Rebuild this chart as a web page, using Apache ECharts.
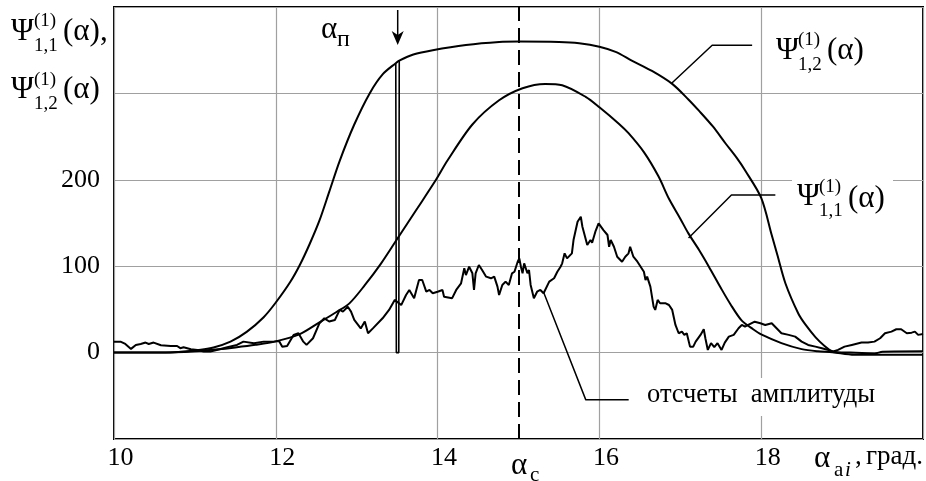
<!DOCTYPE html>
<html><head><meta charset="utf-8">
<script src="https://cdn.jsdelivr.net/npm/echarts@6/dist/echarts.min.js"></script>
<style>html,body{margin:0;padding:0;background:#fff}#c{width:926px;height:481px}</style>
</head><body><div id="c"></div>
<script>
// ---- tick labels ----
const xTickLabels = [10, 12, 14, 16, 18];
const yTickLabels = [0, 100, 200];

// ---- Psi(1)_{1,2}(alpha) ----
const psi12X = [10.0,10.5,10.75,11.0,11.23,11.44,11.64,11.85,12.0,12.18,12.3,12.42,12.54,12.66,12.79,12.97,13.16,13.32,13.483,13.526,13.7,13.94,14.35,14.76,15.0,15.5,15.75,16.0,16.2,16.4,16.65,16.9,17.1,17.23,17.4,17.56,17.7,17.8,18.0,18.13,18.2,18.3,18.46,18.55,18.67,18.78,18.89,19.1,19.4,19.5,20.0];
const psi12Y = [0,0,0.5,2.5,6,12.7,24,41,58,82,102,126,153,186,222,264,300,322,335,338,345,350,356,359.5,360,359.5,358,354,348,338,326,311,293,280,262,242,225,211,179,136,113,80,45,32,18,8,1,0,-1,1,1.5];
// narrow dip of Psi(1)_{1,2} at alpha_p
const psi12NotchX = [13.483, 13.49, 13.52, 13.526];
const psi12NotchY = [335, 0, 0, 338];

// ---- Psi(1)_{1,1}(alpha) ----
const psi11X = [10.0,10.5,10.75,11.0,11.25,11.5,11.75,12.0,12.29,12.54,12.75,12.91,13.1,13.3,13.49,13.75,13.98,14.12,14.43,14.76,15.05,15.33,15.54,15.83,16.0,16.24,16.36,16.55,16.73,16.86,17.0,17.1,17.23,17.35,17.5,17.62,17.76,17.9,18.0,18.25,18.5,18.7,18.88,19.15,20.0];
const psi11Y = [0,0,0.3,1.5,3.5,6,9,13,21,35,47,57,78,103,130,167,200,222,264,292,306,311,309.5,296,284,265,254,232,204,178,155,138,119,100,75,56,37,27,21,11,4,1.5,0.5,-2.5,-2.5];

// ---- amplitude samples ----
const ampX = [10.0,10.08,10.14,10.21,10.27,10.33,10.39,10.43,10.49,10.58,10.70,10.78,10.82,10.86,10.95,11.03,11.11,11.19,11.27,11.40,11.52,11.60,11.73,11.85,11.97,12.04,12.08,12.14,12.22,12.28,12.34,12.38,12.46,12.54,12.60,12.66,12.73,12.79,12.83,12.89,12.93,12.97,13.05,13.10,13.14,13.20,13.32,13.40,13.47,13.55,13.61,13.65,13.71,13.77,13.81,13.86,13.90,13.94,14.00,14.06,14.08,14.18,14.23,14.29,14.33,14.35,14.39,14.41,14.43,14.45,14.47,14.51,14.55,14.60,14.66,14.70,14.74,14.76,14.80,14.84,14.88,14.92,14.95,14.97,14.99,15.01,15.03,15.05,15.07,15.11,15.13,15.15,15.19,15.23,15.27,15.31,15.38,15.44,15.48,15.52,15.54,15.57,15.60,15.62,15.66,15.68,15.73,15.77,15.79,15.85,15.89,15.91,15.95,15.99,16.01,16.05,16.10,16.12,16.14,16.18,16.22,16.28,16.32,16.36,16.38,16.42,16.47,16.51,16.55,16.57,16.59,16.63,16.67,16.69,16.72,16.75,16.82,16.86,16.90,16.94,16.98,17.02,17.05,17.08,17.12,17.16,17.19,17.25,17.29,17.31,17.34,17.38,17.42,17.46,17.51,17.55,17.60,17.66,17.72,17.76,17.80,17.84,17.92,17.99,18.05,18.13,18.19,18.25,18.34,18.42,18.50,18.58,18.67,18.75,18.83,18.89,18.95,19.03,19.12,19.24,19.32,19.40,19.47,19.53,19.61,19.67,19.73,19.80,19.86,19.90,19.94,20.0];
const ampY = [12.7,12.7,10,4.3,8.9,10,11.6,10,11.6,8.5,7.7,7.7,5.1,6.2,3.9,3.1,1.2,1.2,3.1,6.2,8.9,12.7,10.9,12.7,12.7,13.5,6.9,7.7,20.5,22.4,12.7,8.9,16.6,34,39.7,36,37.8,49.4,47.4,53,47.4,37.8,28,36,22.4,28,39.7,49.4,61,55,66.7,72.5,62.9,84,84,70.5,72.5,68.7,70.5,72.5,64.7,63,72.5,80.2,97.6,89.8,99.4,101.4,91.8,72.5,91.8,101.4,95.6,87.9,86,87.9,76.3,66.7,78.3,82.1,78.3,91.8,93.6,91.8,105.2,109.1,99.4,91.8,103.3,91.8,95.6,78.3,62.9,70.5,72.5,68.7,82.1,86,93.6,99.4,103.3,114.9,109.1,107.2,114.9,130.3,151.5,157.2,145.7,124.5,130.3,127.2,139.9,149.6,151.5,141.8,136.1,122.5,130.3,122.5,111,105.2,111,114.9,122.5,111,105.2,99.4,93.6,84,87.9,76.3,53.2,49.4,61,57.1,57.1,55.1,49.4,32,22.4,24.3,20.5,22.4,6.9,6.9,12.7,20.5,27,16.6,3.1,10.9,6.2,10.9,3.1,11.6,18.5,20.5,28.2,32,30,32,35.8,34,32,34,28.2,22.4,20.5,18.5,12.7,8.9,6.9,5.1,3.1,1.2,3.1,6.9,8.9,11.6,11.6,12.7,16.6,22.4,24.3,27,27,22.4,23.1,24.3,20.5,21.6];

// ---- annotation leader lines (data coordinates) ----
const leader12X = [16.893, 17.394, 17.888];
const leader12Y = [311.8, 355.7, 355.7];
const leader11X = [17.102, 17.632, 18.175];
const leader11Y = [132.6, 182.3, 182.3];
const leaderAmpX = [15.314, 15.832, 16.362];
const leaderAmpY = [69, -54.7, -54.7];
const alphaC = 15;

const zip = (xs, ys) => xs.map((x, i) => [x, ys[i]]);
const F = 'Liberation Serif';
const chart = echarts.init(document.getElementById('c'));

function T(text, x, y, size, extra) {
  return { type: 'text', x: x, y: y, z: 100, silent: true,
    style: Object.assign({ text: text, fontSize: size, fontFamily: F, fill: '#000',
      textAlign: 'left', textVerticalAlign: 'middle' }, extra || {}) };
}
function R(x, y, w, h) {
  return { type: 'rect', z: 90, silent: true, shape: { x: x, y: y, width: w, height: h },
    style: { fill: '#fff' } };
}

const curve = (name, xs, ys, w, smooth) => ({
  name: name, type: 'line', data: zip(xs, ys), showSymbol: false, symbol: 'none',
  smooth: smooth || false, silent: true, animation: false, z: 5,
  lineStyle: { color: '#000', width: w }
});

const series = [
  curve('psi12', psi12X, psi12Y, 2, 0.3),
  curve('psi12notch', psi12NotchX, psi12NotchY, 1.6),
  curve('psi11', psi11X, psi11Y, 2, 0.3),
  Object.assign(curve('amp', ampX, ampY, 2), {
    markLine: { silent: true, symbol: 'none', animation: false,
      label: { show: false },
      lineStyle: { color: '#000', width: 2, type: [15, 7] },
      data: [{ xAxis: alphaC }] }
  }),
  curve('l12', leader12X, leader12Y, 1.5),
  curve('l11', leader11X, leader11Y, 1.5),
  curve('lamp', leaderAmpX, leaderAmpY, 1.5)
];

const M = 31, S = 19;
const graphic = [
  // y axis title
  T('Ψ', 11, 32, M), T('(1)', 34, 21, S), T('1,1', 34, 46, S), T('(α),', 63, 32, M),
  T('Ψ', 11, 90, M), T('(1)', 34, 80, S), T('1,2', 34, 104, S), T('(α)', 63, 90, M),
  // Psi 1,2 label
  T('Ψ', 776, 51, M), T('(1)', 798, 40, S), T('1,2', 798, 65, S), T('(α)', 827, 51, M),
  // Psi 1,1 label
  R(792, 170, 101, 55),
  T('Ψ', 797, 197, M), T('(1)', 819, 187, S), T('1,1', 819, 211, S), T('(α)', 848, 199, M),
  // amplitude label
  R(643, 378, 240, 38),
  T('отсчеты  амплитуды', 647, 395, 26.5),
  // alpha_p and arrow
  T('α', 321, 30, M), T('п', 337, 40, 24),
  { type: 'line', z: 100, silent: true, shape: { x1: 397.7, y1: 10, x2: 397.7, y2: 38 },
    style: { stroke: '#000', lineWidth: 1.5 } },
  { type: 'polygon', z: 100, silent: true,
    shape: { points: [[391.7, 31], [397.7, 35], [403.7, 31], [397.7, 45]] },
    style: { fill: '#000' } },
  // alpha_c
  T('α', 511, 466, M), T('c', 530, 475, 21),
  // x axis name
  T('α', 814, 459, M), T('a', 834, 470, 21), T('i', 845, 470, 21, { fontStyle: 'italic' }),
  T(',', 855, 457, 27), T('град.', 866, 457, 27)
];

chart.setOption({
  animation: false,
  backgroundColor: '#fff',
  grid: { left: 114, right: 2, top: 7, bottom: 42, show: true, borderColor: '#000', borderWidth: 2, backgroundColor: 'transparent' },
  xAxis: {
    type: 'value', min: 10, max: 20, interval: 2,
    axisLine: { show: false }, axisTick: { show: false },
    splitLine: { show: true, lineStyle: { color: '#a0a0a0', width: 1.2 } },
    axisLabel: { color: '#000', fontFamily: F, fontSize: 26, margin: 6, padding: [0, 0, 0, 13],
      formatter: v => xTickLabels.includes(v) ? String(v) : '' }
  },
  yAxis: {
    type: 'value', min: -100, max: 400, interval: 100,
    axisLine: { show: false }, axisTick: { show: false },
    splitLine: { show: true, lineStyle: { color: '#a0a0a0', width: 1.2 } },
    axisLabel: { color: '#000', fontFamily: F, fontSize: 26, margin: 14, padding: [6, 0, 0, 0],
      formatter: v => yTickLabels.includes(v) ? String(v) : '' }
  },
  series: series,
  graphic: graphic
});
</script></body></html>
